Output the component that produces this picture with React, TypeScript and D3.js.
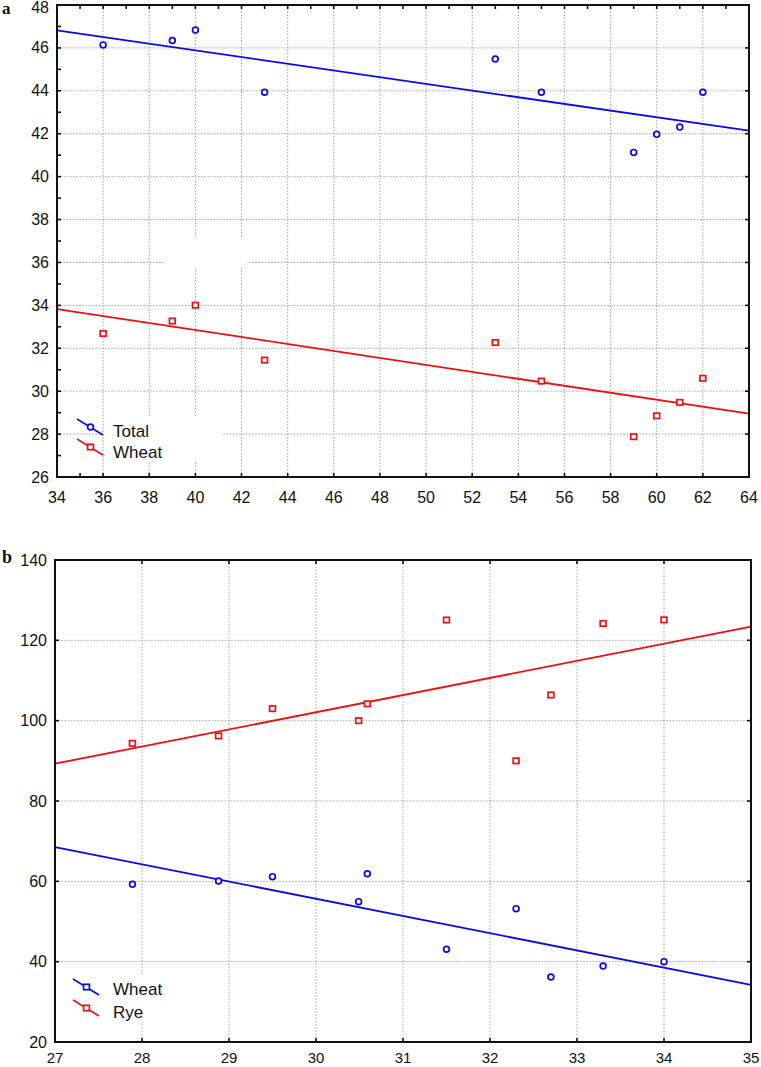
import React from "react";
import * as d3 from "d3";

// ---- Panel a data ----
const aX = [36, 39, 40, 43, 53, 55, 59, 60, 61, 62];
const aTotal = [46.14, 46.34, 46.83, 43.93, 45.48, 43.93, 41.13, 41.97, 42.31, 43.93];
const aWheat = [32.69, 33.27, 34.01, 31.45, 32.27, 30.47, 27.88, 28.85, 29.48, 30.6];
const aXTicks = d3.range(34, 65, 2);
const aYTicks = d3.range(26, 49, 2);
const aSeriesNames = ["Total", "Wheat"];

// ---- Panel b data ----
const bX = [27.89, 28.88, 29.5, 30.49, 30.59, 31.5, 32.3, 32.7, 33.3, 34.0];
const bWheat = [59.25, 60.1, 61.16, 54.94, 61.9, 43.1, 53.2, 36.2, 38.9, 40.0];
const bRye = [94.36, 96.2, 103.0, 100.0, 104.2, 125.06, 90.0, 106.4, 124.2, 125.1];
const bXTicks = d3.range(27, 36, 1);
const bYTicks = d3.range(20, 141, 20);
const bSeriesNames = ["Wheat", "Rye"];

const BLUE = "#0a0ae8";
const RED = "#ec1010";
const GRID = "#a8a8a8";
const FONT = "'Liberation Sans', Arial, sans-serif";

function fit(xs: number[], ys: number[]) {
  const mx = d3.mean(xs)!;
  const my = d3.mean(ys)!;
  let sxy = 0, sxx = 0;
  xs.forEach((x, i) => {
    sxy += (x - mx) * (ys[i] - my);
    sxx += (x - mx) * (x - mx);
  });
  const b = sxy / sxx;
  return (x: number) => my + b * (x - mx);
}

type Series = { ys: number[]; color: string; shape: "circle" | "square" };

function Marker({ cx, cy, color, shape }: { cx: number; cy: number; color: string; shape: string }) {
  if (shape === "circle")
    return <circle cx={cx} cy={cy} r={2.9} fill="white" stroke={color} strokeWidth={1.7} />;
  return <rect x={cx - 2.9} y={cy - 2.7} width={5.8} height={5.4} fill="white" stroke={color} strokeWidth={1.7} />;
}

function Panel(props: {
  left: number; right: number; top: number; bottom: number;
  xDomain: [number, number]; yDomain: [number, number];
  xTicks: number[]; yTicks: number[];
  topMinor: number[]; bottomMinor: number[]; leftMinor: number[]; rightTicks: number[];
  xs: number[]; series: Series[];
  xLabelY: number; xLabelSize: number; yLabelX: number;
  children?: any;
}) {
  const { left, right, top, bottom, xs, series } = props;
  const x = d3.scaleLinear().domain(props.xDomain).range([left, right]);
  const y = d3.scaleLinear().domain(props.yDomain).range([bottom, top]);
  const line = d3.line<[number, number]>().x((d) => x(d[0])).y((d) => y(d[1]));
  const tl = 4;
  return (
    <g>
      {props.xTicks.filter((t) => t > props.xDomain[0] && t < props.xDomain[1]).map((t) => (
        <line key={"gx" + t} x1={x(t)} x2={x(t)} y1={top} y2={bottom} stroke={GRID} strokeWidth={1} strokeDasharray="1.6 1.6" />
      ))}
      {props.yTicks.filter((t) => t > props.yDomain[0] && t < props.yDomain[1]).map((t) => (
        <line key={"gy" + t} x1={left} x2={right} y1={y(t)} y2={y(t)} stroke={GRID} strokeWidth={1} strokeDasharray="1.6 1.6" />
      ))}
      {props.children}
      {series.map((s, i) => {
        const f = fit(xs, s.ys);
        const pts: [number, number][] = [[props.xDomain[0], f(props.xDomain[0])], [props.xDomain[1], f(props.xDomain[1])]];
        return <path key={"l" + i} d={line(pts) || ""} stroke={s.color} strokeWidth={1.8} fill="none" />;
      })}
      {series.map((s, i) =>
        xs.map((xv, j) => (
          <Marker key={"m" + i + "_" + j} cx={x(xv)} cy={y(s.ys[j])} color={s.color} shape={s.shape} />
        ))
      )}
      <rect x={left} y={top} width={right - left} height={bottom - top} fill="none" stroke="#111" strokeWidth={2} />
      {props.topMinor.map((t) => (
        <line key={"tt" + t} x1={x(t)} x2={x(t)} y1={top} y2={top + tl} stroke="#111" strokeWidth={1.6} />
      ))}
      {props.bottomMinor.map((t) => (
        <line key={"tb" + t} x1={x(t)} x2={x(t)} y1={bottom} y2={bottom - tl} stroke="#111" strokeWidth={1.6} />
      ))}
      {props.leftMinor.map((t) => (
        <line key={"tlft" + t} x1={left} x2={left + tl} y1={y(t)} y2={y(t)} stroke="#111" strokeWidth={1.6} />
      ))}
      {props.rightTicks.map((t) => (
        <line key={"tr" + t} x1={right} x2={right - tl} y1={y(t)} y2={y(t)} stroke="#111" strokeWidth={1.6} />
      ))}
      {props.xTicks.map((t) => (
        <text key={"xl" + t} x={x(t)} y={props.xLabelY} textAnchor="middle" fontFamily={FONT} fontSize={props.xLabelSize} fill="#111">
          {t}
        </text>
      ))}
      {props.yTicks.map((t) => (
        <text key={"yl" + t} x={props.yLabelX} y={Math.max(y(t) + 5.5, 13)} textAnchor="end" fontFamily={FONT} fontSize={16} fill="#111">
          {t}
        </text>
      ))}
    </g>
  );
}

function LegendItem({ x0, y0, color, shape, label, ty }: { x0: number; y0: number; color: string; shape: string; label: string; ty: number }) {
  return (
    <g>
      <line x1={x0} y1={y0} x2={x0 + 26} y2={y0 + 16} stroke={color} strokeWidth={1.6} />
      <Marker cx={x0 + 13.5} cy={y0 + 8} color={color} shape={shape} />
      <text x={113} y={ty} fontFamily={FONT} fontSize={17} fill="#111">{label}</text>
    </g>
  );
}

export default function App() {
  return (
    <svg width={761} height={1067} style={{ position: "absolute", left: 0, top: 0, background: "white" }}>
      <rect x={0} y={0} width={761} height={1067} fill="white" />
      <text x={2} y={14} fontFamily="'Liberation Serif', 'Times New Roman', serif" fontWeight="bold" fontSize={17} fill="#111">a</text>
      <Panel
        left={57} right={749} top={5} bottom={477}
        xDomain={[34, 64]} yDomain={[26, 48]}
        xTicks={aXTicks} yTicks={aYTicks}
        topMinor={d3.range(35, 64, 1)} bottomMinor={[35, ...d3.range(36, 64, 2)]}
        leftMinor={d3.range(27, 48, 1)} rightTicks={d3.range(28, 48, 2)}
        xs={aX}
        series={[
          { ys: aTotal, color: BLUE, shape: "circle" },
          { ys: aWheat, color: RED, shape: "square" },
        ]}
        xLabelY={503} xLabelSize={16} yLabelX={49}
      >
        <rect x={166} y={238} width={81} height={30} fill="white" />
        <rect x={104} y={416} width={118} height={45} fill="white" />
      </Panel>
      <LegendItem x0={77} y0={419} color={BLUE} shape="circle" label={aSeriesNames[0]} ty={437} />
      <LegendItem x0={77} y0={439} color={RED} shape="square" label={aSeriesNames[1]} ty={458} />

      <text x={2} y={563} fontFamily="'Liberation Serif', 'Times New Roman', serif" fontWeight="bold" fontSize={18} fill="#111">b</text>
      <Panel
        left={55} right={751} top={560} bottom={1042}
        xDomain={[27, 35]} yDomain={[20, 140]}
        xTicks={bXTicks} yTicks={bYTicks}
        topMinor={d3.range(28, 35, 1)} bottomMinor={d3.range(28, 35, 1)}
        leftMinor={d3.range(40, 140, 20)} rightTicks={d3.range(40, 140, 20)}
        xs={bX}
        series={[
          { ys: bWheat, color: BLUE, shape: "circle" },
          { ys: bRye, color: RED, shape: "square" },
        ]}
        xLabelY={1063} xLabelSize={15} yLabelX={47}
      >
        <rect x={104} y={974} width={96} height={48} fill="white" />
      </Panel>
      <LegendItem x0={73} y0={979} color={BLUE} shape="square" label={bSeriesNames[0]} ty={995} />
      <LegendItem x0={73} y0={1000} color={RED} shape="square" label={bSeriesNames[1]} ty={1018} />
    </svg>
  );
}
